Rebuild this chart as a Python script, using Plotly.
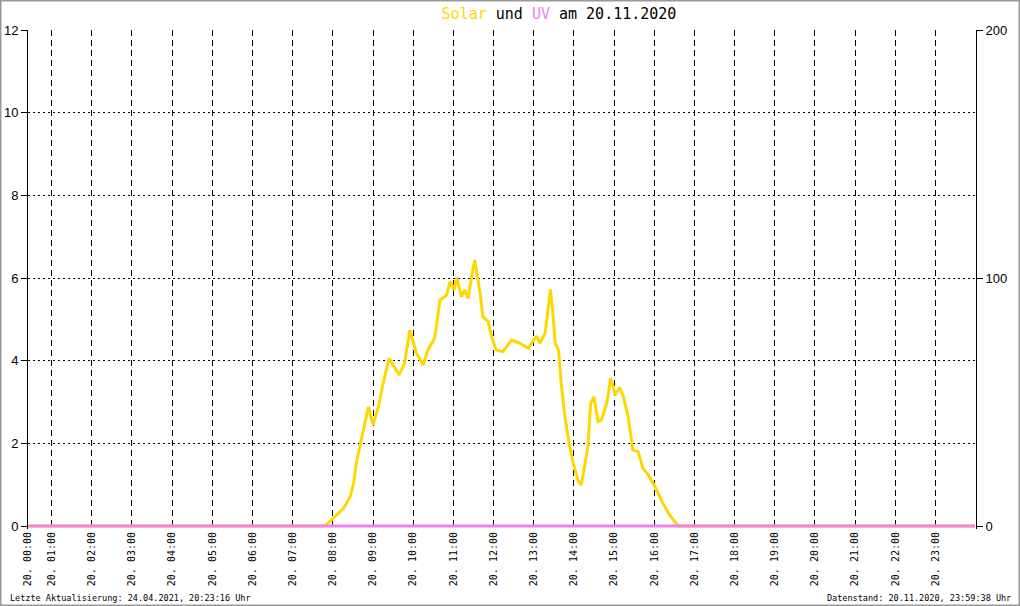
import plotly.graph_objects as go
import pandas as pd

# ---- data ----
solar_times = [
    "00:25", "07:45", "07:50", "08:01", "08:16", "08:26", "08:31", "08:35", "08:40", "08:46",
    "08:53", "09:00", "09:08", "09:15", "09:24", "09:30", "09:39", "09:47", "09:55",
    "10:05", "10:15", "10:22", "10:32", "10:40", "10:50", "10:55", "11:01", "11:05",
    "11:12", "11:17", "11:22", "11:29", "11:32", "11:40", "11:44", "11:52", "11:57",
    "12:04", "12:14", "12:27", "12:39", "12:52", "13:04", "13:09", "13:17", "13:22",
    "13:25", "13:29", "13:32", "13:37", "13:41", "13:46", "13:52", "13:59", "14:06",
    "14:11", "14:16", "14:21", "14:25", "14:30", "14:36", "14:41", "14:49", "14:55",
    "15:02", "15:08", "15:14", "15:21", "15:28", "15:36", "15:43", "15:51", "16:01",
    "16:13", "16:23", "16:33", "16:36", "23:59",
]
solar_values = [
    0, 0, 0.4, 3.1, 7.1, 11.8, 17.2, 25.3, 32.0, 38.7,
    48.1, 40.7, 48.1, 57.5, 67.6, 64.9, 60.9, 65.6, 79.0,
    69.6, 64.9, 71.0, 75.7, 91.1, 93.1, 98.5, 95.2, 100.3,
    92.5, 95.2, 91.8, 103.2, 107.3, 93.8, 84.4, 82.4, 76.3,
    71.0, 70.3, 75.0, 73.7, 71.7, 76.6, 73.7, 77.7, 88.4,
    95.4, 84.4, 73.7, 71.0, 57.5, 45.4, 34.7, 25.3, 18.5,
    16.5, 23.9, 32.0, 49.5, 52.1, 42.1, 42.7, 49.5, 59.6,
    52.8, 55.9, 52.1, 44.1, 30.6, 30.0, 23.3, 20.6, 15.9,
    9.1, 4.4, 0.8, 0, 0,
]
uv_times = ["00:25", "23:59"]
uv_values = [0, 0]

hour_ticks = ["00:24:45"] + [f"{h:02d}:00:00" for h in range(1, 24)]
hour_labels = [f"20. {h:02d}:00" for h in range(0, 24)]
uv_ticks = [0, 2, 4, 6, 8, 10, 12]
solar_ticks = [0, 100, 200]

day = "2020-11-20 "
tx = pd.to_datetime([day + t for t in solar_times], format="%Y-%m-%d %H:%M")
ux = pd.to_datetime([day + t for t in uv_times], format="%Y-%m-%d %H:%M")
tickvals = pd.to_datetime([day + t for t in hour_ticks], format="%Y-%m-%d %H:%M:%S")

fig = go.Figure()
# Solar on the (right side) y axis, drawn first
fig.add_trace(go.Scatter(x=tx, y=solar_values, mode="lines", name="Solar",
                         line=dict(color="#FFD700", width=3), yaxis="y"))
# UV on the overlaying left axis, drawn on top
fig.add_trace(go.Scatter(x=ux, y=uv_values, mode="lines", name="UV",
                         line=dict(color="#EE82EE", width=3), yaxis="y2"))

W, H = 1020, 606
# plot area: x 28..976, value 0 at y=526, top (12) at y=30; 3px extra below 0
L, R, T = 28, 44, 30
zero_px, pad = 526, 3
B = H - (zero_px + pad)
pw, ph = W - L - R, H - T - B
unit = (zero_px - T)  # pixels from 0 to top
uv_lo = -12 * pad / unit
solar_lo = -200 * pad / unit

def px(x):
    return (x - L) / pw

def py(y):
    return (H - B - y) / ph

fig.update_layout(
    width=W, height=H,
    margin=dict(l=L, r=R, t=T, b=B, autoexpand=False),
    paper_bgcolor="white", plot_bgcolor="white",
    showlegend=False,
    title=dict(
        text='<span style="color:#FFD700">Solar</span> und <span style="color:#EE82EE">UV</span> am 20.11.2020',
        font=dict(family="DejaVu Sans Mono", size=15, color="black"),
        x=559 / W, xanchor="center", xref="container",
        y=1 - 14 / H, yanchor="middle", yref="container",
    ),
    xaxis=dict(
        type="date", automargin=False,
        range=[day + "00:24:45", "2020-11-21 00:00:30"],
        tickvals=tickvals, ticktext=hour_labels, tickangle=-90,
        tickfont=dict(family="DejaVu Sans Mono", size=10, color="black"),
        ticks="", showline=False, zeroline=False,
        showgrid=True, gridcolor="black", gridwidth=1, griddash="6px,4px",
    ),
    yaxis=dict(
        side="right", range=[solar_lo, 200], tickvals=solar_ticks, automargin=False,
        tickfont=dict(family="Liberation Sans", size=13, color="black"),
        ticks="outside", ticklen=6, tickcolor="black",
        showline=True, linecolor="black", linewidth=1,
        showgrid=False, zeroline=False,
    ),
    yaxis2=dict(
        side="left", overlaying="y", range=[uv_lo, 12], tickvals=uv_ticks, automargin=False,
        tickfont=dict(family="Liberation Sans", size=13, color="black"),
        ticks="outside", ticklen=6, tickcolor="black",
        showline=True, linecolor="black", linewidth=1,
        showgrid=True, gridcolor="black", gridwidth=1, griddash="2px,3px",
        zeroline=False,
    ),
    shapes=[dict(type="rect", xref="paper", yref="paper",
                 x0=px(0.5), x1=px(W - 0.5), y0=py(H - 0.5), y1=py(0.5),
                 line=dict(color="#999999", width=2), layer="above")],
    annotations=[
        dict(text="Letzte Aktualisierung: 24.04.2021, 20:23:16 Uhr",
             xref="paper", yref="paper", x=px(8), y=py(598),
             xanchor="left", yanchor="middle", showarrow=False,
             font=dict(family="DejaVu Sans Mono", size=8.5, color="black")),
        dict(text="Datenstand: 20.11.2020, 23:59:38 Uhr",
             xref="paper", yref="paper", x=px(1013), y=py(598),
             xanchor="right", yanchor="middle", showarrow=False,
             font=dict(family="DejaVu Sans Mono", size=8.5, color="black")),
    ],
)

fig.write_html("out.html",
               config={"displayModeBar": False},
               post_script="document.body.style.margin='0';document.body.style.overflow='hidden';")
